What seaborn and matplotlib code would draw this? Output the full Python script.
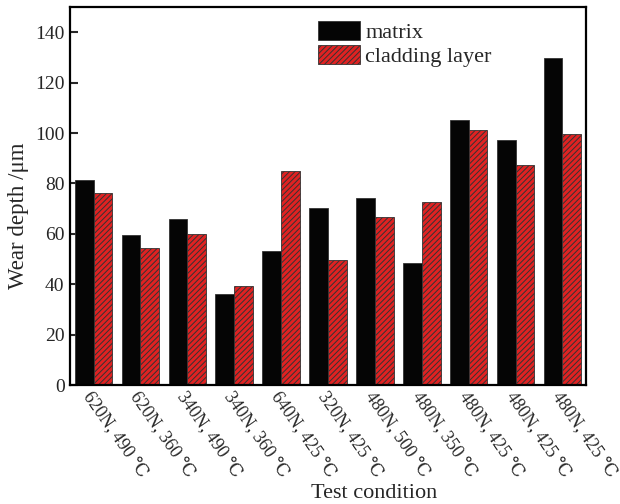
import matplotlib
matplotlib.use("Agg")
import matplotlib.pyplot as plt
from matplotlib.patches import Patch
import seaborn as sns
import pandas as pd

conditions = ["620N, 490 ℃", "620N, 360 ℃", "340N, 490 ℃", "340N, 360 ℃",
              "640N, 425 ℃", "320N, 425 ℃", "480N, 500 ℃", "480N, 350 ℃",
              "480N, 425 ℃", "480N, 425 ℃", "480N, 425 ℃"]
matrix = [81.2, 59.5, 66.0, 36.3, 53.2, 70.2, 74.3, 48.5, 105.0, 97.2, 129.8]
cladding = [76.2, 54.2, 60.1, 39.3, 84.9, 49.7, 66.5, 72.7, 101.3, 87.3, 99.8]
series = ["matrix", "cladding layer"]
colors = ["#050505", "#e02222"]

sns.set_theme(style="white")
plt.rcParams["font.family"] = ["Liberation Serif", "DejaVu Serif", "DejaVu Sans"]
plt.rcParams["hatch.linewidth"] = 0.7
plt.rcParams["hatch.color"] = "#1a1a1a"

rows = []
for i in range(len(conditions)):
    rows.append({"cond": i, "series": series[0], "depth": matrix[i]})
    rows.append({"cond": i, "series": series[1], "depth": cladding[i]})
df = pd.DataFrame(rows)

fig = plt.figure(figsize=(6.2, 5.04), dpi=100)
ax = fig.add_axes([0.113, 0.236, 0.832, 0.750])

sns.barplot(data=df, x="cond", y="depth", hue="series", hue_order=series,
            palette=colors, width=0.8, legend=False, ax=ax,
            edgecolor="#333333", linewidth=0.6, saturation=1)

for bar in ax.containers[1]:
    bar.set_hatch("//////")

ax.set_ylim(0, 150)
ax.set_xlim(-0.5, len(conditions) - 0.5)
ax.set_yticks(range(0, 141, 20))
ax.set_xticks(range(len(conditions)))
ax.set_xticklabels(conditions, rotation=-55, ha="left", va="top",
                   rotation_mode="anchor", fontsize=13)

ax.tick_params(axis="y", direction="in", length=6, width=1.5, labelsize=14,
               left=True, pad=4)
ax.tick_params(axis="x", length=0, pad=3)

for s in ax.spines.values():
    s.set_visible(True)
    s.set_color("black")
    s.set_linewidth(1.6)

ax.set_ylabel("Wear depth /μm", fontsize=16.5)
ax.set_xlabel("Test condition", fontsize=16)
ax.yaxis.set_label_coords(-0.08, 0.447)
ax.xaxis.set_label_coords(0.59, -0.262)

handles = [Patch(facecolor=colors[0], edgecolor="#333333", linewidth=0.6),
           Patch(facecolor=colors[1], edgecolor="#333333", linewidth=0.6,
                 hatch="//////")]
ax.legend(handles, series, loc="upper left", bbox_to_anchor=(0.48, 0.962),
          frameon=False, fontsize=16, handlelength=1.9, handleheight=0.9,
          labelspacing=0.08, handletextpad=0.25, borderpad=0, borderaxespad=0)

fig.savefig("out.png", dpi=100)
